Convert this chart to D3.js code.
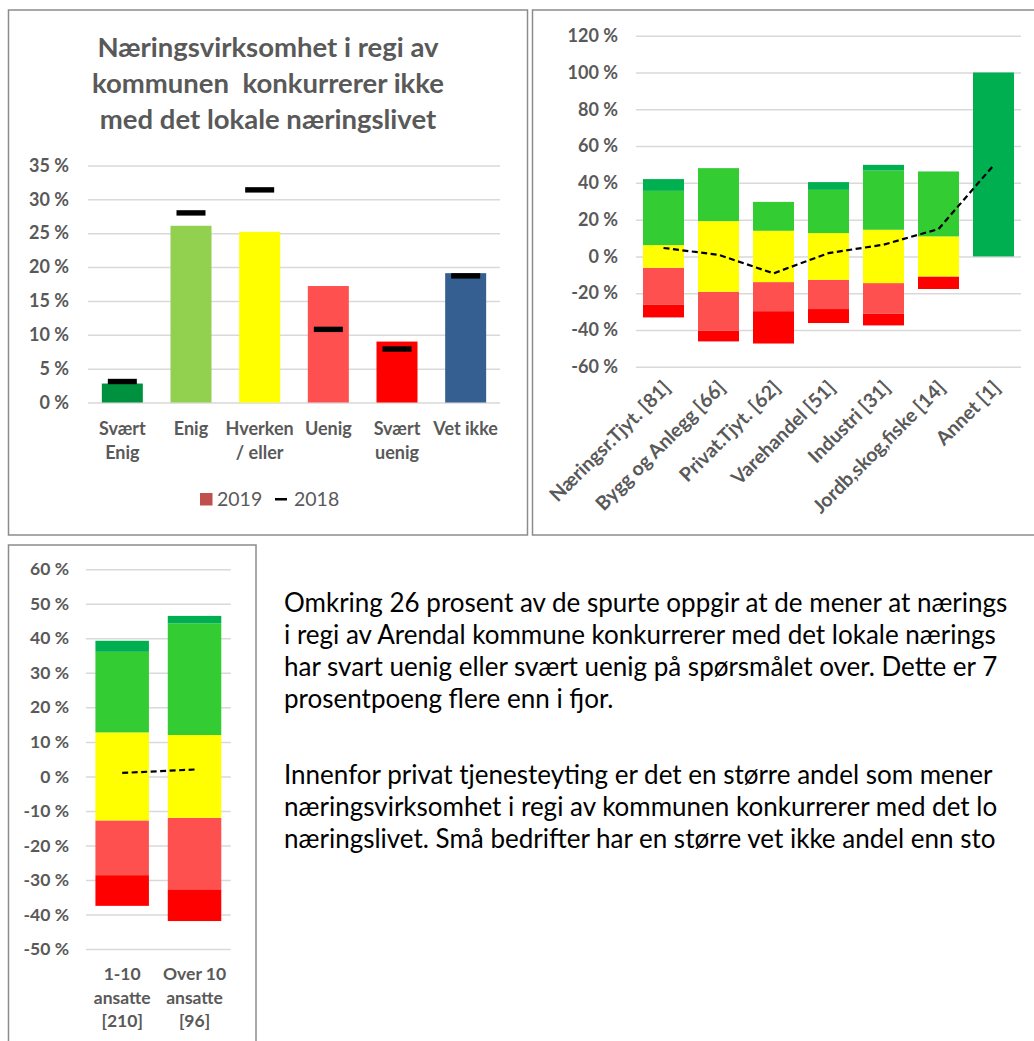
<!DOCTYPE html>
<html><head><meta charset="utf-8">
<script src="https://cdn.jsdelivr.net/npm/d3@7"></script>
<style>
html,body{margin:0;padding:0;background:#fff;overflow:hidden;}
svg{display:block;font-family:Lato,"Open Sans",sans-serif;}
</style></head><body>
<svg id="c" width="1034" height="1041"></svg>
<script>
// ---------- DATA ----------
const likertCats = ["Svært Enig", "Enig", "Hverken / eller", "Uenig", "Svært uenig", "Vet ikke"];
const likertLabelLines = [["Svært", "Enig"], ["Enig"], ["Hverken", "/ eller"], ["Uenig"], ["Svært", "uenig"], ["Vet ikke"]];
const values2019 = [2.8, 26.1, 25.2, 17.2, 9.0, 19.1];
const values2018 = [3.1, 28.0, 31.4, 10.8, 7.9, 18.7];
const likertTicks = [0, 5, 10, 15, 20, 25, 30, 35];

const sectors = ["Næringsr.Tjyt. [81]", "Bygg og Anlegg [66]", "Privat.Tjyt. [62]", "Varehandel [51]", "Industri [31]", "Jordb,skog,fiske [14]", "Annet [1]"];
const sectorSvaertEnig = [6.4, 0, 0, 4.2, 3.1, 0, 100];
const sectorEnig = [29.5, 28.8, 15.7, 23.5, 32.2, 35.3, 0];
const sectorHverken = [12.3, 38.4, 27.9, 25.4, 29.0, 21.8, 0];
const sectorUenig = [20.2, 21.2, 15.8, 15.9, 16.5, 0, 0];
const sectorSvaertUenig = [6.8, 5.8, 17.6, 7.6, 6.5, 6.8, 0];
const sectorNet2018 = [4.6, 0.9, -9.2, 1.8, 6.4, 14.9, 49.5];
const sectorTicks = [-60, -40, -20, 0, 20, 40, 60, 80, 100, 120];

const sizeCats = ["1-10 ansatte [210]", "Over 10 ansatte [96]"];
const sizeLabelLines = [["1-10", "ansatte", "[210]"], ["Over 10", "ansatte", "[96]"]];
const sizeSvaertEnig = [3.2, 2.2];
const sizeEnig = [23.35, 32.3];
const sizeHverken = [25.5, 24.0];
const sizeUenig = [15.85, 20.7];
const sizeSvaertUenig = [8.9, 9.2];
const sizeNet2018 = [1.0, 2.0];
const sizeTicks = [-50, -40, -30, -20, -10, 0, 10, 20, 30, 40, 50, 60];

const titleLines = ["Næringsvirksomhet i regi av", "kommunen  konkurrerer ikke", "med det lokale næringslivet"];
// text as visible in the reference (it is cut at the right edge there)
const paragraph1 = ["Omkring 26 prosent av de spurte oppgir at de mener at nærings",
  "i regi av Arendal kommune konkurrerer med det lokale nærings",
  "har svart uenig eller svært uenig på spørsmålet over. Dette er 7",
  "prosentpoeng flere enn i fjor."];
const paragraph2 = ["Innenfor privat tjenesteyting er det en større andel som mener",
  "næringsvirksomhet i regi av kommunen konkurrerer med det lo",
  "næringslivet. Små bedrifter har en større vet ikke andel enn sto"];

// ---------- STYLE ----------
const GRAY = "#595959", GRID = "#d9d9d9", BORDER = "#8c8c8c";
const likertColors = ["#00913f", "#92d050", "#ffff00", "#ff5050", "#ff0000", "#365f91"];
const stackColors = {se: "#00b050", e: "#33cc33", h: "#ffff00", u: "#ff5050", su: "#ff0000"};
const pct = d => d + " %";

const svg = d3.select("#c");

// panel borders
function box(x, y, w, h) {
  svg.append("rect").attr("x", x).attr("y", y).attr("width", w).attr("height", h)
    .attr("fill", "none").attr("stroke", BORDER).attr("stroke-width", 1.5);
}
box(8.5, 10, 519, 525);
box(532.5, 10, 520, 525);
box(8.5, 545, 247.5, 520);

function yAxis(g, y, ticks, x0, x1, labelX, fs) {
  const ax = g.append("g").attr("transform", `translate(${x0},0)`)
    .call(d3.axisLeft(y).tickValues(ticks).tickSize(-(x1 - x0)).tickPadding(x0 - labelX).tickFormat(pct));
  ax.select(".domain").remove();
  ax.selectAll(".tick line").attr("stroke", GRID).attr("stroke-width", 1.5);
  ax.selectAll(".tick text").attr("fill", GRAY).attr("font-size", fs).attr("font-weight", "bold")
    .attr("font-family", "Lato, sans-serif");
}

// ---------- CHART 1 ----------
{
  const g = svg.append("g");
  g.selectAll("text.title").data(titleLines).join("text").attr("class", "title")
    .attr("x", 268).attr("y", (d, i) => 57 + i * 36).attr("text-anchor", "middle")
    .attr("fill", GRAY).attr("font-size", 27.5).attr("font-weight", "bold").style("white-space", "pre").text(d => d);

  const x = d3.scaleBand().domain(likertCats).range([88, 500]).paddingInner(0.4).paddingOuter(0.2);
  const y = d3.scaleLinear().domain([0, 35]).range([402.5, 165.5]);
  yAxis(g, y, likertTicks, 88, 500, 69, 18);

  g.selectAll("rect.bar").data(likertCats).join("rect").attr("class", "bar")
    .attr("x", d => x(d) + x.bandwidth() / 2 - 20.5).attr("width", 41)
    .attr("y", (d, i) => y(values2019[i])).attr("height", (d, i) => y(0) - y(values2019[i]))
    .attr("fill", (d, i) => likertColors[i]);

  g.selectAll("rect.m").data(likertCats).join("rect").attr("class", "m")
    .attr("x", d => x(d) + x.bandwidth() / 2 - 14.5).attr("width", 29)
    .attr("y", (d, i) => y(values2018[i]) - 2.7).attr("height", 5.4).attr("fill", "#000");

  likertCats.forEach((c, i) => {
    likertLabelLines[i].forEach((ln, j) => {
      g.append("text").attr("x", x(c) + x.bandwidth() / 2).attr("y", 435 + j * 24)
        .attr("text-anchor", "middle").attr("fill", GRAY).attr("font-size", 18).attr("font-weight", "bold").text(ln);
    });
  });

  // legend
  g.append("rect").attr("x", 200).attr("y", 493).attr("width", 12.5).attr("height", 12.5).attr("fill", "#c0504d");
  g.append("text").attr("x", 217).attr("y", 506).attr("fill", GRAY).attr("font-size", 19.5).text("2019");
  g.append("rect").attr("x", 275).attr("y", 498).attr("width", 12).attr("height", 2.5).attr("fill", "#000");
  g.append("text").attr("x", 294).attr("y", 506).attr("fill", GRAY).attr("font-size", 19.5).text("2018");
}

// diverging stacked chart helper
function diverging(g, cats, x, y, barW, se, e, h, u, su, net) {
  const rows = cats.map((c, i) => {
    const half = h[i] / 2;
    return [
      {c, k: "su", y0: -half - u[i] - su[i], y1: -half - u[i]},
      {c, k: "u", y0: -half - u[i], y1: -half},
      {c, k: "h", y0: -half, y1: half},
      {c, k: "e", y0: half, y1: half + e[i]},
      {c, k: "se", y0: half + e[i], y1: half + e[i] + se[i]}
    ];
  }).flat().filter(d => d.y1 - d.y0 > 0);
  g.selectAll("rect.seg").data(rows).join("rect").attr("class", "seg")
    .attr("x", d => x(d.c) + x.bandwidth() / 2 - barW / 2).attr("width", barW)
    .attr("y", d => y(d.y1)).attr("height", d => y(d.y0) - y(d.y1))
    .attr("fill", d => stackColors[d.k]);
  const line = d3.line().x((d, i) => x(cats[i]) + x.bandwidth() / 2).y(d => y(d));
  g.append("path").datum(net).attr("d", line).attr("fill", "none").attr("stroke", "#000")
    .attr("stroke-width", 2.2).attr("stroke-dasharray", "6,3.5");
}

// ---------- CHART 2 ----------
{
  const g = svg.append("g");
  const x = d3.scaleBand().domain(sectors).range([636, 1021]);
  const y = d3.scaleLinear().domain([-60, 120]).range([366.8, 35.7]);
  yAxis(g, y, sectorTicks, 636, 1021, 618, 18);
  diverging(g, sectors, x, y, 41, sectorSvaertEnig, sectorEnig, sectorHverken, sectorUenig, sectorSvaertUenig, sectorNet2018);
  g.selectAll("text.xl").data(sectors).join("text").attr("class", "xl")
    .attr("transform", d => `translate(${x(d) + x.bandwidth() / 2 + 8},${389}) rotate(-45)`)
    .attr("text-anchor", "end").attr("fill", GRAY).attr("font-size", 19.5).attr("font-weight", "bold").text(d => d);
}

// ---------- CHART 3 ----------
{
  const g = svg.append("g");
  const x = d3.scaleBand().domain(sizeCats).range([86, 230.7]);
  const y = d3.scaleLinear().domain([-50, 60]).range([949, 569.3]);
  yAxis(g, y, sizeTicks, 86, 230.7, 69, 17.5);
  diverging(g, sizeCats, x, y, 53.5, sizeSvaertEnig, sizeEnig, sizeHverken, sizeUenig, sizeSvaertUenig, sizeNet2018);
  sizeCats.forEach((c, i) => {
    sizeLabelLines[i].forEach((ln, j) => {
      g.append("text").attr("x", x(c) + x.bandwidth() / 2).attr("y", 980 + j * 23.5)
        .attr("text-anchor", "middle").attr("fill", GRAY).attr("font-size", 17.5).attr("font-weight", "bold").text(ln);
    });
  });
}

// ---------- TEXT ----------
{
  const g = svg.append("g").attr("font-size", 26).attr("fill", "#000");
  paragraph1.forEach((t, i) => g.append("text").attr("x", 284).attr("y", 612 + i * 32).text(t));
  paragraph2.forEach((t, i) => g.append("text").attr("x", 284).attr("y", 784 + i * 32).text(t));
}
</script>
</body></html>
